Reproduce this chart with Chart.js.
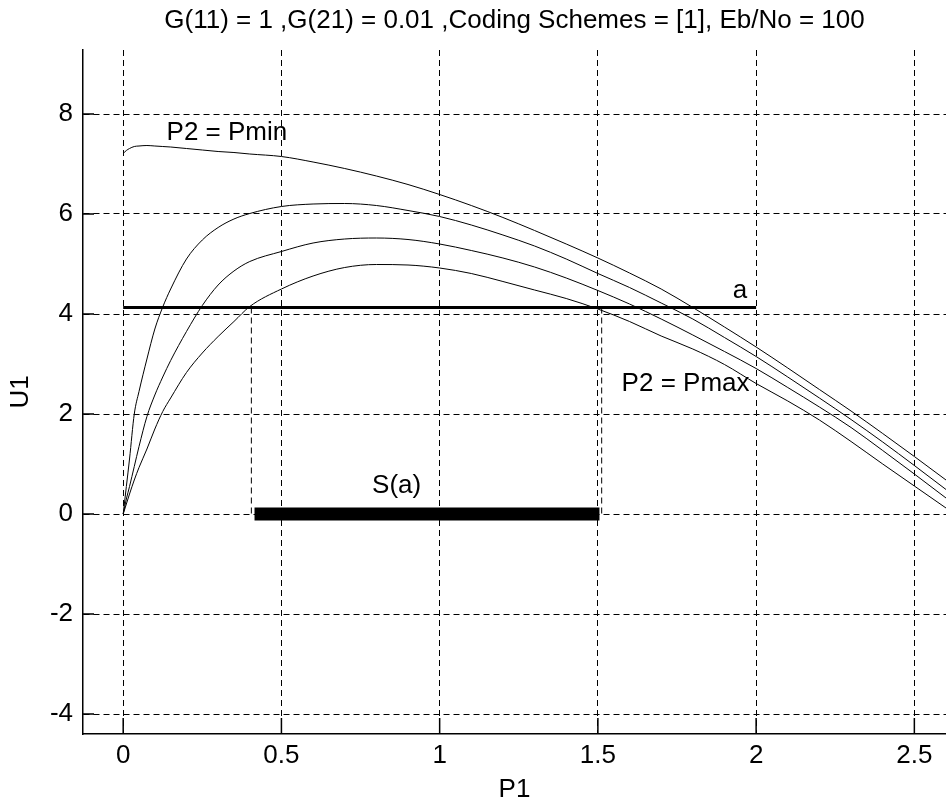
<!DOCTYPE html>
<html>
<head>
<meta charset="utf-8">
<script src="https://cdn.jsdelivr.net/npm/chart.js@4.4.1/dist/chart.umd.min.js"></script>
<style>
  body { margin: 0; background: #fff; overflow: hidden; }
  canvas { display: block; }
</style>
</head>
<body>
<canvas id="grafico" width="946" height="803"></canvas>
<script>
// P1 samples shared by the four curves
const p1Values = [0, 0.01, 0.02, 0.035, 0.05, 0.075, 0.1, 0.125, 0.15, 0.2, 0.25, 0.3, 0.35, 0.4,
  0.5, 0.6, 0.7, 0.8, 0.9, 1.0, 1.1, 1.2, 1.3, 1.4, 1.5, 1.6, 1.7, 1.8, 1.9, 2.0,
  2.1, 2.2, 2.3, 2.4, 2.5, 2.6, 2.7];

// U1 for P2 = Pmin (top curve)
const u1Pmin = [7.21, 7.27, 7.31, 7.35, 7.36, 7.37, 7.36, 7.35, 7.34, 7.31, 7.28, 7.25, 7.23, 7.2,
  7.15, 7.04, 6.91, 6.76, 6.59, 6.39, 6.17, 5.93, 5.67, 5.40, 5.12, 4.82, 4.50, 4.13, 3.74, 3.34,
  2.92, 2.49, 2.06, 1.61, 1.15, 0.68, 0.2];

const u1Mid1 = [0, 0.55, 1.1, 2.0, 2.45, 3.1, 3.7, 4.14, 4.5, 5.1, 5.48, 5.73, 5.9, 6.01,
  6.15, 6.2, 6.21, 6.17, 6.07, 5.95, 5.78, 5.58, 5.36, 5.10, 4.81, 4.53, 4.22, 3.90, 3.53, 3.15,
  2.74, 2.32, 1.89, 1.44, 0.97, 0.49, 0.0];

const u1Mid2 = [0, 0.3, 0.55, 0.95, 1.35, 1.95, 2.38, 2.74, 3.07, 3.65, 4.17, 4.58, 4.86, 5.05,
  5.25, 5.42, 5.5, 5.52, 5.49, 5.40, 5.27, 5.12, 4.94, 4.72, 4.47, 4.2, 3.9, 3.58, 3.25, 2.91,
  2.53, 2.14, 1.73, 1.27, 0.8, 0.32, -0.16];

// U1 for P2 = Pmax (lowest curve)
const u1Pmax = [0, 0.2, 0.4, 0.68, 0.93, 1.3, 1.7, 2.05, 2.32, 2.83, 3.22, 3.55, 3.85, 4.15,
  4.50, 4.76, 4.93, 4.99, 4.98, 4.92, 4.81, 4.65, 4.48, 4.31, 4.10, 3.85, 3.56, 3.30, 2.99, 2.61,
  2.26, 1.88, 1.45, 1.00, 0.56, 0.12, -0.33];

// level a and the set S(a)
const nivelA = 4.13;
const nivelAx = [0, 2.0];
const conjuntoS = [0.415, 1.505];
const quedaX = [0.405, 1.512];

const xTicks = [0, 0.5, 1, 1.5, 2, 2.5];
const yTicks = [-4, -2, 0, 2, 4, 6, 8];

const textos = [
  { texto: 'P2 = Pmin', x: 0.137, y: 7.63, align: 'left' },
  { texto: 'P2 = Pmax', x: 1.575, y: 2.61, align: 'left' },
  { texto: 'a', x: 1.949, y: 4.47, align: 'center' },
  { texto: 'S(a)', x: 0.864, y: 0.56, align: 'center' },
];

const fonte = 'Liberation Sans, Arial, sans-serif';
Chart.defaults.font.family = fonte;
Chart.defaults.color = '#000';

function serie(ys) {
  return p1Values.map((x, i) => ({ x: x, y: ys[i] }));
}

function curva(ys) {
  return {
    data: serie(ys),
    borderColor: '#000',
    borderWidth: 1,
    pointRadius: 0,
    cubicInterpolationMode: 'monotone',
  };
}

const datasets = [
  curva(u1Pmin),
  curva(u1Mid1),
  curva(u1Mid2),
  curva(u1Pmax),
  {
    data: nivelAx.map(x => ({ x: x, y: nivelA })),
    borderColor: '#000', borderWidth: 3, pointRadius: 0,
  },
  {
    data: conjuntoS.map(x => ({ x: x, y: 0 })),
    borderColor: '#000', borderWidth: 13, pointRadius: 0, borderCapStyle: 'butt',
  },
];
quedaX.forEach(x => {
  datasets.push({
    data: [{ x: x, y: nivelA }, { x: x, y: 0 }],
    borderColor: '#000', borderWidth: 1, pointRadius: 0, borderDash: [6, 4],
  });
});

// ticks drawn inward plus the text labels
const extras = {
  id: 'extras',
  afterDraw(chart) {
    const { ctx } = chart;
    const sx = chart.scales.x;
    const sy = chart.scales.y;
    ctx.save();
    ctx.strokeStyle = '#000';
    ctx.lineWidth = 1.5;
    ctx.beginPath();
    xTicks.forEach(v => {
      const px = sx.getPixelForValue(v);
      ctx.moveTo(px, sy.bottom);
      ctx.lineTo(px, sy.bottom - 16);
    });
    yTicks.forEach(v => {
      const py = sy.getPixelForValue(v);
      ctx.moveTo(sx.left, py);
      ctx.lineTo(sx.left + 11, py);
    });
    ctx.stroke();

    ctx.fillStyle = '#000';
    ctx.font = '26px ' + fonte;
    ctx.textBaseline = 'middle';
    textos.forEach(t => {
      ctx.textAlign = t.align;
      ctx.fillText(t.texto, sx.getPixelForValue(t.x), sy.getPixelForValue(t.y));
    });
    ctx.restore();
  }
};

new Chart(document.getElementById('grafico'), {
  type: 'scatter',
  data: { datasets: datasets },
  options: {
    responsive: false,
    animation: false,
    devicePixelRatio: 1,
    showLine: true,
    layout: { padding: 0 },
    plugins: {
      legend: { display: false },
      tooltip: { enabled: false },
      title: {
        display: true,
        text: 'G(11) = 1 ,G(21) = 0.01 ,Coding Schemes = [1], Eb/No = 100',
        font: { size: 26, weight: 'normal', lineHeight: 1.2 },
        color: '#000',
        fullSize: false,
        padding: { top: 5, bottom: 13.8 },
      },
    },
    scales: {
      x: {
        type: 'linear',
        min: -0.127,
        max: 2.6,
        afterBuildTicks: s => { s.ticks = xTicks.map(v => ({ value: v })); },
        afterFit: s => { s.height = 69; },
        ticks: { font: { size: 26 }, padding: 6, maxRotation: 0, color: '#000', callback: v => String(v) },
        grid: { color: '#000', lineWidth: 1, drawTicks: false },
        border: { color: '#000', width: 1.5, dash: [6, 4] },
        title: { display: true, text: 'P1', font: { size: 26, lineHeight: 1 }, padding: 0, color: '#000' },
      },
      y: {
        type: 'linear',
        min: -4.4,
        max: 9.28,
        afterBuildTicks: s => { s.ticks = yTicks.map(v => ({ value: v })); },
        afterFit: s => { s.width = 83; },
        ticks: { font: { size: 26 }, padding: 10, color: '#000', callback: v => String(v) },
        grid: { color: '#000', lineWidth: 1, drawTicks: false },
        border: { color: '#000', width: 1.5, dash: [6, 4] },
        title: { display: true, text: 'U1', font: { size: 26, lineHeight: 1.2 }, padding: { top: 5, bottom: 0 }, color: '#000' },
      },
    },
  },
  plugins: [extras],
});
</script>
</body>
</html>
